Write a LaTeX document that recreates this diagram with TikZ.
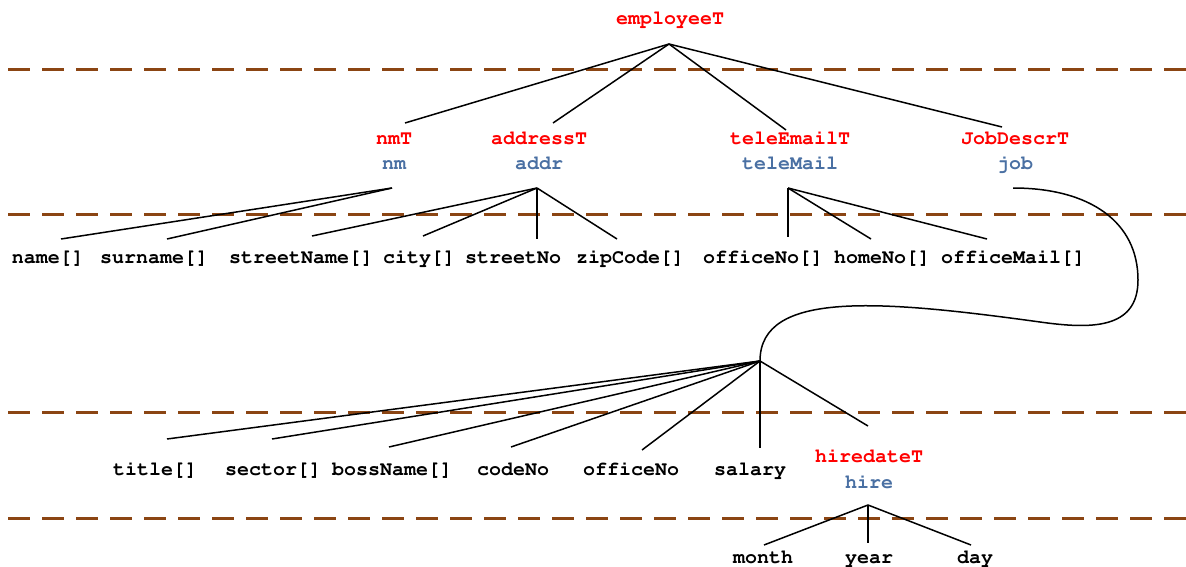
\documentclass[tikz,border=0pt]{standalone}
\usepackage[T1]{fontenc}
\definecolor{typered}{RGB}{255,0,0}
\definecolor{varblue}{RGB}{74,112,163}
\definecolor{sepbrown}{RGB}{139,69,19}
\begin{document}
\begin{tikzpicture}[x=1pt,y=-1pt,
  lbl/.style={font=\fontencoding{T1}\fontfamily{pcr}\fontseries{b}\fontsize{20}{24}\selectfont, inner sep=0pt, text height=14pt, text depth=4pt},
  tname/.style={lbl,text=typered},
  vname/.style={lbl,text=varblue},
  field/.style={lbl,text=black},
  sepline/.style={draw=sepbrown,line width=3pt,dash pattern=on 22pt off 12pt},
  edge/.style={draw=black,line width=1.5pt}]
\useasboundingbox (0,0) rectangle (1186,567);

% separators
\coordinate (s1a) at (8,70);  \coordinate (s1b) at (1186,70);
\coordinate (s2a) at (8,214); \coordinate (s2b) at (1186,214);
\coordinate (s3a) at (8,412); \coordinate (s3b) at (1186,412);
\coordinate (s4a) at (8,518); \coordinate (s4b) at (1186,518);
\draw[sepline] (s1a) -- (s1b);
\draw[sepline] (s2a) -- (s2b);
\draw[sepline] (s3a) -- (s3b);
\draw[sepline] (s4a) -- (s4b);

% level 0
\node[tname] (employeeT) at (670,20) {employeeT};
% level 1
\node[tname] (nmT) at (394,140) {nmT};
\node[vname] (nm) at (394,165) {nm};
\node[tname] (addressT) at (539,140) {addressT};
\node[vname] (addr) at (539,165) {addr};
\node[tname] (teleEmailT) at (790,140) {teleEmailT};
\node[vname] (teleMail) at (790,165) {teleMail};
\node[tname] (JobDescrT) at (1015,140) {JobDescrT};
\node[vname] (job) at (1015,165) {job};
% level 2
\node[field] (name) at (48,258) {name[]};
\node[field] (surname) at (154,258) {surname[]};
\node[field] (streetName) at (301,258) {streetName[]};
\node[field] (city) at (419,258) {city[]};
\node[field] (streetNo) at (513,258) {streetNo};
\node[field] (zipCode) at (630,258) {zipCode[]};
\node[field] (officeNoA) at (763,258) {officeNo[]};
\node[field] (homeNo) at (882,258) {homeNo[]};
\node[field] (officeMail) at (1013,258) {officeMail[]};
% level 3
\node[field] (title) at (155,470) {title[]};
\node[field] (sector) at (273,470) {sector[]};
\node[field] (bossName) at (392,470) {bossName[]};
\node[field] (codeNo) at (513,470) {codeNo};
\node[field] (officeNoB) at (631,470) {officeNo};
\node[field] (salary) at (750,470) {salary};
\node[tname] (hiredateT) at (869,457) {hiredateT};
\node[vname] (hire) at (869,483) {hire};
% level 4
\node[field] (month) at (763,558) {month};
\node[field] (year) at (869,558) {year};
\node[field] (day) at (975,558) {day};

% apexes and line ends
\coordinate (empApex) at (669,44);
\coordinate (nmApex) at (392,188);
\coordinate (addrApex) at (537,188);
\coordinate (teleApex) at (788,188);
\coordinate (jobStart) at (1013,188);
\coordinate (jobApex) at (760,361);
\coordinate (hireApex) at (868,505);

\coordinate (e-nmT) at (405,123);
\coordinate (e-addressT) at (553,123);
\coordinate (e-teleEmailT) at (786,130);
\coordinate (e-JobDescrT) at (1002,127);
\coordinate (e-name) at (61,239);
\coordinate (e-surname) at (167,239);
\coordinate (e-streetName) at (312,236);
\coordinate (e-city) at (423,236);
\coordinate (e-streetNo) at (537,239);
\coordinate (e-zipCode) at (617,239);
\coordinate (e-officeNoA) at (788,237);
\coordinate (e-homeNo) at (871,239);
\coordinate (e-officeMail) at (987,239);
\coordinate (e-title) at (167,439);
\coordinate (e-sector) at (272,439);
\coordinate (e-bossName) at (389,447);
\coordinate (e-codeNo) at (511,447);
\coordinate (e-officeNoB) at (642,450);
\coordinate (e-salary) at (760,448);
\coordinate (e-hiredateT) at (868,426);
\coordinate (e-month) at (764,545);
\coordinate (e-year) at (868,543);
\coordinate (e-day) at (971,545);

% connectors
\foreach \t in {nmT,addressT,teleEmailT,JobDescrT}
  \draw[edge] (empApex) -- (e-\t);
\foreach \t in {name,surname}
  \draw[edge] (nmApex) -- (e-\t);
\foreach \t in {streetName,city,streetNo,zipCode}
  \draw[edge] (addrApex) -- (e-\t);
\foreach \t in {officeNoA,homeNo,officeMail}
  \draw[edge] (teleApex) -- (e-\t);
\foreach \t in {title,sector,bossName,codeNo,officeNoB,salary,hiredateT}
  \draw[edge] (jobApex) -- (e-\t);
\foreach \t in {month,year,day}
  \draw[edge] (hireApex) -- (e-\t);

\draw[edge] (jobStart) .. controls (1090,188) and (1138,222) .. (1138,280)
  .. controls (1138,330) and (1090,329) .. (1040,322)
  .. controls (880,300) and (760,290) .. (jobApex);
\end{tikzpicture}
\end{document}
